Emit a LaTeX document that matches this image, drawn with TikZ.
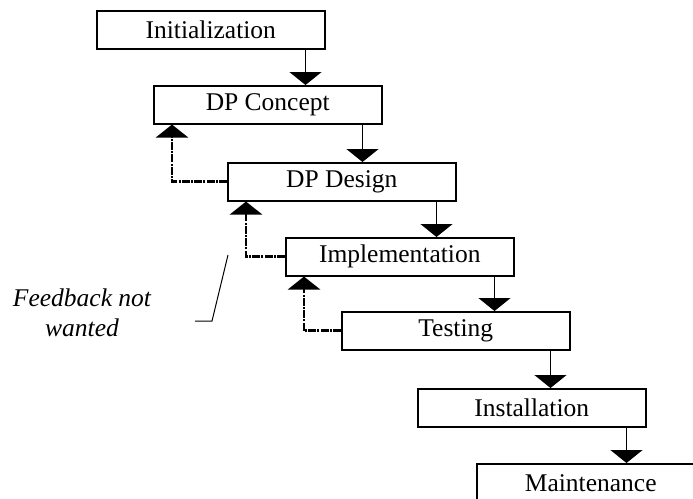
\documentclass[tikz,border=0pt]{standalone}
\usepackage{fontspec}
\setmainfont{Liberation Serif}
\usetikzlibrary{arrows.meta}
\begin{document}
\begin{tikzpicture}[x=1pt,y=-1pt,
  box/.style={draw, line width=1.5pt, minimum width=228pt, minimum height=38pt, inner sep=0pt, anchor=north west, font=\fontsize{25.5}{30}\selectfont},
  flow/.style={line width=1.5pt, -{Triangle[width=32pt,length=13pt]}},
  fb/.style={line width=2.6pt, dash pattern=on 8pt off 1.2pt on 2pt off 1.2pt, -{Triangle[width=32pt,length=13pt]}},
  lbl/.style={align=center, font=\itshape\fontsize{25.5}{30}\selectfont}]
\clip (0,0) rectangle (693,498);
\node[box] (init) at (96,10) {Initialization};
\node[box] (conc) at (153,85) {DP Concept};
\node[box] (desi) at (227,162) {DP Design};
\node[box] (impl) at (285,237) {Implementation};
\node[box] (test) at (341,311) {Testing};
\node[box] (inst) at (417,388) {Installation};
\node[box] (main) at (476,463) {Maintenance};
\foreach \a/\b in {init/conc, conc/desi, desi/impl, impl/test, test/inst, inst/main}
  \draw[flow] ([xshift=-20pt]\a.south east) -- ([xshift=-20pt]\a.south east |- \b.north);
\foreach \a/\b in {conc/desi, desi/impl, impl/test}
  \draw[fb] (\b.west) -| ([xshift=19pt]\a.south west);
\node[lbl] (note) at (82,313) {Feedback not\\wanted};
\coordinate (l1) at (195,321);
\coordinate (l2) at (212,321);
\coordinate (l3) at (228,255);
\draw[line width=1pt] (l1) -- (l2) -- (l3);
\end{tikzpicture}
\end{document}
